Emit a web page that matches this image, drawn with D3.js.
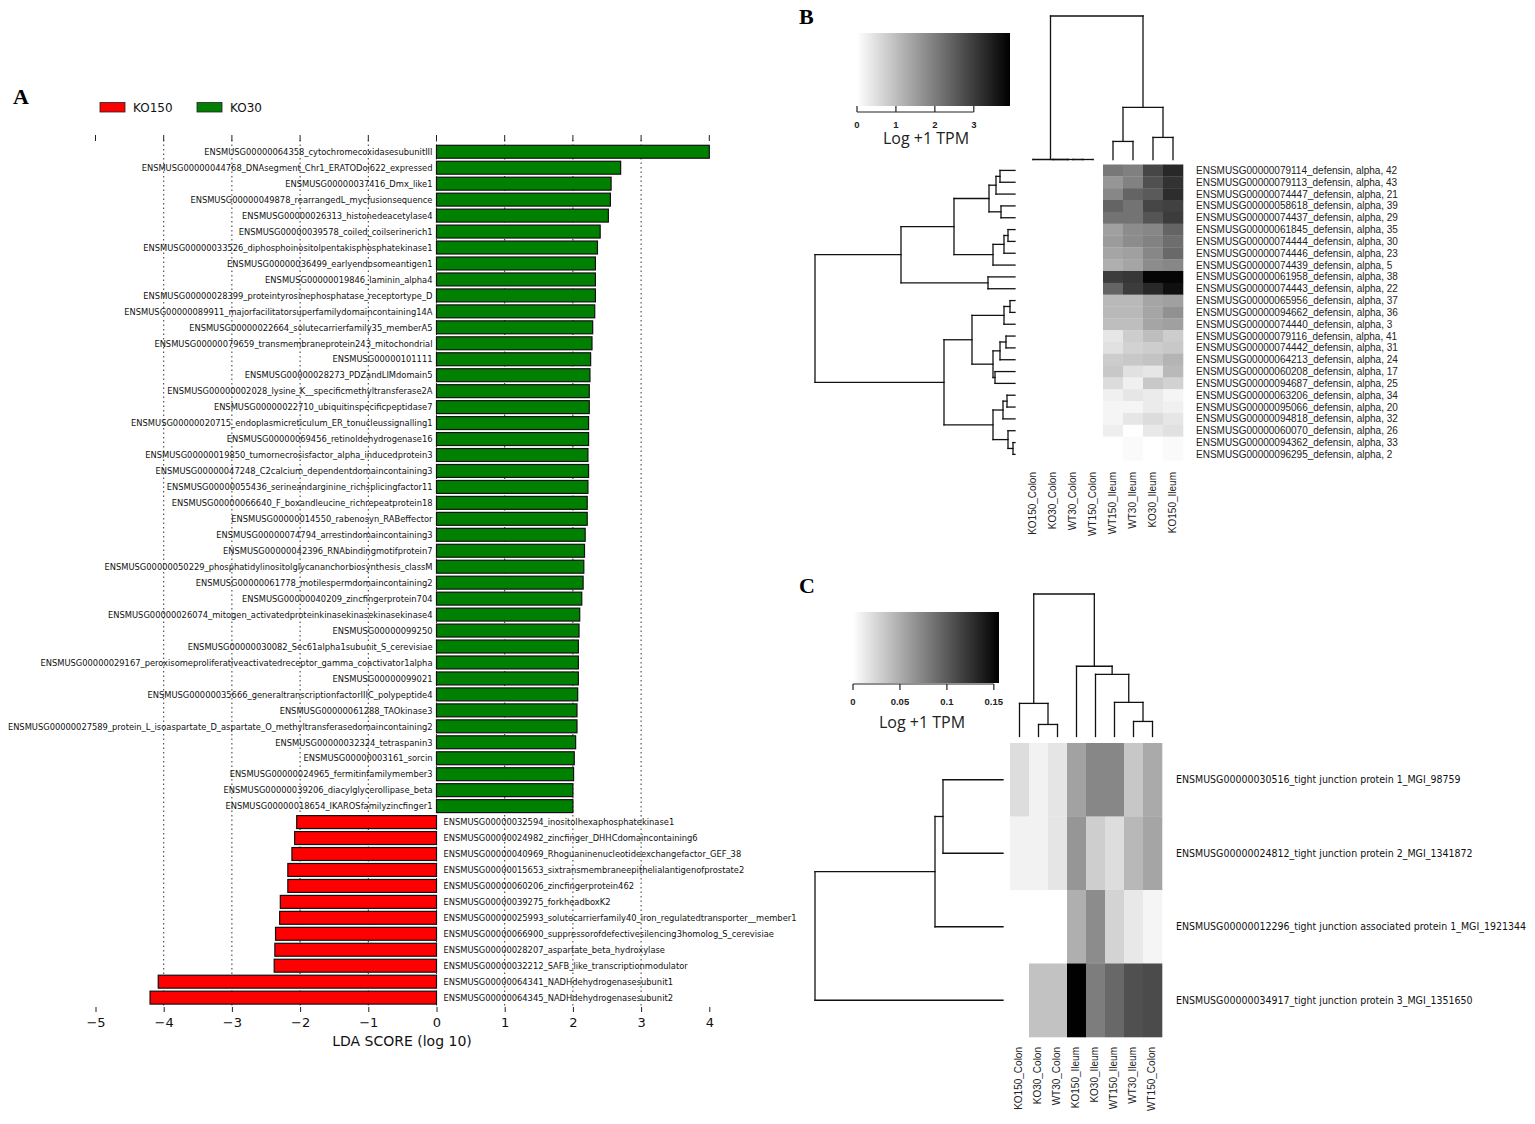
<!DOCTYPE html>
<html><head><meta charset="utf-8">
<script src="https://cdn.jsdelivr.net/npm/d3@7"></script>
<style>body{margin:0;background:#fff}</style>
</head><body>
<svg id="c" width="1535" height="1124" xmlns="http://www.w3.org/2000/svg"></svg>
<script>
// ---------------- Panel A data ----------------
const ldaGroups = ["KO150", "KO30"];
const ldaTicks = [-5, -4, -3, -2, -1, 0, 1, 2, 3, 4];
const ldaGrid = [-4, -3, -2, -1, 0, 1, 2, 3];
const ldaGenes = [
"ENSMUSG00000064358_cytochromecoxidasesubunitIII",
"ENSMUSG00000044768_DNAsegment_Chr1_ERATODoi622_expressed",
"ENSMUSG00000037416_Dmx_like1",
"ENSMUSG00000049878_rearrangedL_mycfusionsequence",
"ENSMUSG00000026313_histonedeacetylase4",
"ENSMUSG00000039578_coiled_coilserinerich1",
"ENSMUSG00000033526_diphosphoinositolpentakisphosphatekinase1",
"ENSMUSG00000036499_earlyendosomeantigen1",
"ENSMUSG00000019846_laminin_alpha4",
"ENSMUSG00000028399_proteintyrosinephosphatase_receptortype_D",
"ENSMUSG00000089911_majorfacilitatorsuperfamilydomaincontaining14A",
"ENSMUSG00000022664_solutecarrierfamily35_memberA5",
"ENSMUSG00000079659_transmembraneprotein243_mitochondrial",
"ENSMUSG00000101111",
"ENSMUSG00000028273_PDZandLIMdomain5",
"ENSMUSG00000002028_lysine_K__specificmethyltransferase2A",
"ENSMUSG00000022710_ubiquitinspecificpeptidase7",
"ENSMUSG00000020715_endoplasmicreticulum_ER_tonucleussignalling1",
"ENSMUSG00000069456_retinoldehydrogenase16",
"ENSMUSG00000019850_tumornecrosisfactor_alpha_inducedprotein3",
"ENSMUSG00000047248_C2calcium_dependentdomaincontaining3",
"ENSMUSG00000055436_serineandarginine_richsplicingfactor11",
"ENSMUSG00000066640_F_boxandleucine_richrepeatprotein18",
"ENSMUSG00000014550_rabenosyn_RABeffector",
"ENSMUSG00000074794_arrestindomaincontaining3",
"ENSMUSG00000042396_RNAbindingmotifprotein7",
"ENSMUSG00000050229_phosphatidylinositolglycananchorbiosynthesis_classM",
"ENSMUSG00000061778_motilespermdomaincontaining2",
"ENSMUSG00000040209_zincfingerprotein704",
"ENSMUSG00000026074_mitogen_activatedproteinkinasekinasekinasekinase4",
"ENSMUSG00000099250",
"ENSMUSG00000030082_Sec61alpha1subunit_S_cerevisiae",
"ENSMUSG00000029167_peroxisomeproliferativeactivatedreceptor_gamma_coactivator1alpha",
"ENSMUSG00000099021",
"ENSMUSG00000035666_generaltranscriptionfactorIIIC_polypeptide4",
"ENSMUSG00000061288_TAOkinase3",
"ENSMUSG00000027589_protein_L_isoaspartate_D_aspartate_O_methyltransferasedomaincontaining2",
"ENSMUSG00000032324_tetraspanin3",
"ENSMUSG00000003161_sorcin",
"ENSMUSG00000024965_fermitinfamilymember3",
"ENSMUSG00000039206_diacylglycerollipase_beta",
"ENSMUSG00000018654_IKAROSfamilyzincfinger1",
"ENSMUSG00000032594_inositolhexaphosphatekinase1",
"ENSMUSG00000024982_zincfinger_DHHCdomaincontaining6",
"ENSMUSG00000040969_Rhoguaninenucleotideexchangefactor_GEF_38",
"ENSMUSG00000015653_sixtransmembraneepithelialantigenofprostate2",
"ENSMUSG00000060206_zincfingerprotein462",
"ENSMUSG00000039275_forkheadboxK2",
"ENSMUSG00000025993_solutecarrierfamily40_iron_regulatedtransporter__member1",
"ENSMUSG00000066900_suppressorofdefectivesilencing3homolog_S_cerevisiae",
"ENSMUSG00000028207_aspartate_beta_hydroxylase",
"ENSMUSG00000032212_SAFB_like_transcriptionmodulator",
"ENSMUSG00000064341_NADHdehydrogenasesubunit1",
"ENSMUSG00000064345_NADHdehydrogenasesubunit2"
];
const ldaScores = [4.00,2.70,2.56,2.55,2.52,2.40,2.36,2.33,2.33,2.33,2.32,2.29,2.28,2.26,2.25,2.24,2.24,2.23,2.23,2.22,
2.23,2.22,2.21,2.21,2.18,2.17,2.16,2.15,2.13,2.10,2.09,2.08,2.08,2.08,2.07,2.06,2.06,2.04,2.02,2.01,2.00,2.00,
-2.05,-2.08,-2.12,-2.18,-2.18,-2.29,-2.30,-2.36,-2.37,-2.38,-4.08,-4.20];

// ---------------- Panel B data ----------------
const defensinGenes = [
"ENSMUSG00000079114_defensin, alpha, 42","ENSMUSG00000079113_defensin, alpha, 43","ENSMUSG00000074447_defensin, alpha, 21",
"ENSMUSG00000058618_defensin, alpha, 39","ENSMUSG00000074437_defensin, alpha, 29","ENSMUSG00000061845_defensin, alpha, 35",
"ENSMUSG00000074444_defensin, alpha, 30","ENSMUSG00000074446_defensin, alpha, 23","ENSMUSG00000074439_defensin, alpha, 5",
"ENSMUSG00000061958_defensin, alpha, 38","ENSMUSG00000074443_defensin, alpha, 22","ENSMUSG00000065956_defensin, alpha, 37",
"ENSMUSG00000094662_defensin, alpha, 36","ENSMUSG00000074440_defensin, alpha, 3","ENSMUSG00000079116_defensin, alpha, 41",
"ENSMUSG00000074442_defensin, alpha, 31","ENSMUSG00000064213_defensin, alpha, 24","ENSMUSG00000060208_defensin, alpha, 17",
"ENSMUSG00000094687_defensin, alpha, 25","ENSMUSG00000063206_defensin, alpha, 34","ENSMUSG00000095066_defensin, alpha, 20",
"ENSMUSG00000094818_defensin, alpha, 32","ENSMUSG00000060070_defensin, alpha, 26","ENSMUSG00000094362_defensin, alpha, 33",
"ENSMUSG00000096295_defensin, alpha, 2"];
const samplesB = ["KO150_Colon","KO30_Colon","WT30_Colon","WT150_Colon","WT150_Ileum","WT30_Ileum","KO30_Ileum","KO150_Ileum"];
// log(TPM+1) per gene, columns in samplesB order
const exprB = [
[0,0,0,0,2.08,1.96,2.85,3.31],
[0,0,0,0,1.62,1.93,2.70,3.16],
[0,0,0,0,1.85,2.39,2.54,3.24],
[0,0,0,0,2.39,2.16,2.85,2.93],
[0,0,0,0,2.16,2.16,2.62,3.00],
[0,0,0,0,1.46,1.77,1.85,2.39],
[0,0,0,0,1.54,1.77,1.93,2.23],
[0,0,0,0,1.39,1.46,1.85,2.31],
[0,0,0,0,1.23,1.39,1.77,1.85],
[0,0,0,0,3.00,3.08,3.85,3.85],
[0,0,0,0,2.39,3.00,3.31,3.70],
[0,0,0,0,1.08,1.08,1.39,1.46],
[0,0,0,0,1.08,1.08,1.39,1.70],
[0,0,0,0,1.00,1.00,1.39,1.46],
[0,0,0,0,0.39,0.77,1.00,0.77],
[0,0,0,0,0.46,0.69,0.77,0.85],
[0,0,0,0,0.77,0.85,0.92,1.16],
[0,0,0,0,0.85,0.46,0.39,1.08],
[0,0,0,0,0.54,0.23,0.85,0.69],
[0,0,0,0,0.23,0.39,0.31,0.15],
[0,0,0,0,0.15,0.15,0.31,0.23],
[0,0,0,0,0.15,0.39,0.54,0.39],
[0,0,0,0,0.26,0.00,0.35,0.46],
[0,0,0,0,0.00,0.08,0.00,0.08],
[0,0,0,0,0.00,0.08,0.00,0.08]];
// dendrograms: [height, left, right]; a number is a leaf index
const rowTreeB = [20,
  [11.4,
    [6.1,
      [2.6, [1.9, [1.5, 0, 1], 2], [1.4, 3, 4]],
      [2.2, [1.1, [0.7, 5, 6], 7], 8]],
    [2.7, 9, 10]],
  [7.1,
    [4.3,
      [1.1, [0.5, 11, 12], 13],
      [2.2, [1.5, [0.9, 14, 15], 16], [2.0, 17, 18]]],
    [2.2,
      [1.2, [0.8, 19, 20], 21],
      [0.7, 22, [0.2, 23, 24]]]]];
const colTreeB = [143, [0, 0, [0, 1, [0, 2, 3]]], [52, [18, 4, 5], [22, 6, 7]]];
const legendMaxB = 3.93;
const legendTicksB = [0, 1, 2, 3];

// ---------------- Panel C data ----------------
const tjGenes = [
"ENSMUSG00000030516_tight junction protein 1_MGI_98759",
"ENSMUSG00000024812_tight junction protein 2_MGI_1341872",
"ENSMUSG00000012296_tight junction associated protein 1_MGI_1921344",
"ENSMUSG00000034917_tight junction protein 3_MGI_1351650"];
const samplesC = ["KO150_Colon","KO30_Colon","WT30_Colon","KO150_Ileum","KO30_Ileum","WT150_Ileum","WT30_Ileum","WT150_Colon"];
const exprC = [
[0.021,0.008,0.016,0.057,0.073,0.073,0.034,0.052],
[0.008,0.008,0.016,0.064,0.030,0.021,0.043,0.055],
[0.000,0.000,0.000,0.049,0.070,0.027,0.014,0.006],
[0.000,0.037,0.037,0.155,0.079,0.092,0.107,0.110]];
const rowTreeC = [188, [68, [60, 0, 1], 2], 3];
const colTreeC = [142, [33, 0, [12, 1, 2]], [70, 3, [62, 4, [34, 5, [15, 6, 7]]]]];
const legendMaxC = 0.1555;
const legendTicksC = [0, 0.05, 0.1, 0.15];

// ---------------- drawing ----------------
const svg = d3.select("#c");
const narrow = "'DejaVu Sans Condensed','Liberation Sans Narrow','DejaVu Sans',sans-serif";
const arial = "'Liberation Sans',Arial,sans-serif";
const dv = "'DejaVu Sans',sans-serif";
const serif = "'Liberation Serif','Times New Roman',serif";

function panelLetter(t, x, y) {
  svg.append("text").attr("x", x).attr("y", y).text(t)
    .attr("font-family", serif).attr("font-weight", "bold").attr("font-size", 22);
}

// ===== Panel A =====
panelLetter("A", 13, 104);
const gA = svg.append("g");
const xA = d3.scaleLinear().domain([-5, 4]).range([95.5, 709.3]);
const yA = d3.scaleBand().domain(d3.range(ldaGenes.length)).range([143.7, 1005.7]).paddingInner(0.19).paddingOuter(0.1);
const colA = d3.scaleOrdinal().domain(ldaGroups).range(["#ff0000", "#008000"]);

// legend
const leg = gA.append("g");
ldaGroups.forEach((k, i) => {
  const lx = 100 + i * 97;
  leg.append("rect").attr("x", lx).attr("y", 102.5).attr("width", 25).attr("height", 9.5)
    .attr("fill", colA(k)).attr("stroke", "#222").attr("stroke-width", 0.8);
  leg.append("text").attr("x", lx + 33).attr("y", 112).text(k)
    .attr("font-family", dv).attr("font-size", 12).attr("fill", "#111");
});

// grid
gA.selectAll("line.grid").data(ldaGrid).join("line")
  .attr("x1", d => xA(d)).attr("x2", d => xA(d)).attr("y1", 140).attr("y2", 1007)
  .attr("stroke", "#333").attr("stroke-width", 1).attr("stroke-dasharray", "1.5,3");
// top ticks
gA.selectAll("line.tt").data(ldaTicks).join("line")
  .attr("x1", d => xA(d)).attr("x2", d => xA(d)).attr("y1", 135).attr("y2", 141)
  .attr("stroke", "#222").attr("stroke-width", 1);
// bottom axis
const axA = d3.axisBottom(xA).tickValues(ldaTicks).tickSize(5).tickFormat(d => d < 0 ? "\u2212" + Math.abs(d) : d);
const axG = gA.append("g").attr("transform", "translate(0,1007)").call(axA);
axG.select(".domain").remove();
axG.selectAll("text").attr("font-family", dv).attr("font-size", 13).attr("fill", "#111").attr("dy", "0.95em");
axG.selectAll("line").attr("stroke", "#222");
gA.append("text").attr("x", 402).attr("y", 1046).attr("text-anchor", "middle")
  .text("LDA SCORE (log 10)").attr("font-family", dv).attr("font-size", 14).attr("fill", "#111");

// bars
gA.selectAll("rect.bar").data(ldaScores).join("rect")
  .attr("x", d => xA(Math.min(0, d))).attr("width", d => Math.abs(xA(d) - xA(0)))
  .attr("y", (d, i) => yA(i)).attr("height", yA.bandwidth())
  .attr("fill", d => colA(d < 0 ? ldaGroups[0] : ldaGroups[1]))
  .attr("stroke", "#111").attr("stroke-width", 1.2);
// labels
gA.selectAll("text.glab").data(ldaGenes).join("text")
  .attr("x", (d, i) => ldaScores[i] >= 0 ? xA(0) - 4 : xA(0) + 7)
  .attr("y", (d, i) => yA(i) + yA.bandwidth() / 2).attr("dy", "0.35em")
  .attr("text-anchor", (d, i) => ldaScores[i] >= 0 ? "end" : "start")
  .text(d => d).attr("font-family", narrow).attr("font-size", 9.25).attr("fill", "#111");

// ===== helpers for heatmaps =====
function drawDendro(g, tree, posOf, hScale, orient) {
  const lines = [];
  function walk(node) {
    if (typeof node === "number") return { p: posOf(node), h: 0 };
    const [h, a, b] = node;
    const A = walk(a), B = walk(b);
    lines.push([A.h, A.p, h, A.p]);
    lines.push([B.h, B.p, h, B.p]);
    lines.push([h, A.p, h, B.p]);
    return { p: (A.p + B.p) / 2, h: h };
  }
  walk(tree);
  g.selectAll("line.dd").data(lines).join("line")
    .attr("x1", d => orient === "row" ? hScale(d[0]) : d[1])
    .attr("y1", d => orient === "row" ? d[1] : hScale(d[0]))
    .attr("x2", d => orient === "row" ? hScale(d[2]) : d[3])
    .attr("y2", d => orient === "row" ? d[3] : hScale(d[2]))
    .attr("stroke", "#111").attr("stroke-width", 1.3).attr("stroke-linecap", "square");
}

function colorBar(g, id, x0, x1, y0, y1, maxV, ticks, fmt, axisY, tickUp, labY, titleX, titleY) {
  const grad = svg.append("defs").append("linearGradient").attr("id", id)
    .attr("x1", "0%").attr("x2", "100%").attr("y1", "0%").attr("y2", "0%");
  grad.append("stop").attr("offset", "0%").attr("stop-color", "#ffffff");
  grad.append("stop").attr("offset", "100%").attr("stop-color", "#000000");
  g.append("rect").attr("x", x0).attr("y", y0).attr("width", x1 - x0).attr("height", y1 - y0)
    .attr("fill", `url(#${id})`);
  const s = d3.scaleLinear().domain([0, maxV]).range([x0, x1]);
  g.append("line").attr("x1", s(ticks[0])).attr("x2", s(ticks[ticks.length - 1]))
    .attr("y1", axisY).attr("y2", axisY).attr("stroke", "#222").attr("stroke-width", 1.2);
  g.selectAll("line.bt").data(ticks).join("line")
    .attr("x1", d => s(d)).attr("x2", d => s(d)).attr("y1", axisY).attr("y2", axisY + tickUp)
    .attr("stroke", "#222").attr("stroke-width", 1.2);
  g.selectAll("text.bl").data(ticks).join("text")
    .attr("x", d => s(d)).attr("y", labY).attr("text-anchor", "middle").text(fmt)
    .attr("font-family", arial).attr("font-weight", "bold").attr("font-size", 9.5).attr("fill", "#222");
  g.append("text").attr("x", titleX).attr("y", titleY).attr("text-anchor", "middle").text("Log +1 TPM")
    .attr("font-family", "'Open Sans','Liberation Sans',sans-serif").attr("font-size", 16).attr("fill", "#222");
}

// ===== Panel B =====
panelLetter("B", 799, 24);
const gB = svg.append("g");
const xB = d3.scaleBand().domain(d3.range(samplesB.length)).range([1023, 1183]);
const yB = d3.scaleBand().domain(d3.range(defensinGenes.length)).range([164.5, 460.3]);
const cB = d3.scaleLinear().domain([0, legendMaxB]).range(["#ffffff", "#000000"]);
exprB.forEach((row, r) => {
  gB.selectAll(null).data(row).join("rect")
    .attr("x", (d, c) => xB(c)).attr("y", yB(r))
    .attr("width", xB.bandwidth() + 0.3).attr("height", yB.bandwidth() + 0.3)
    .attr("fill", d => cB(d));
});
gB.selectAll("text.rl").data(defensinGenes).join("text")
  .attr("x", 1196).attr("y", (d, i) => yB(i) + yB.bandwidth() / 2).attr("dy", "0.35em")
  .text(d => d).attr("font-family", arial).attr("font-size", 10).attr("fill", "#222");
gB.selectAll("text.cl").data(samplesB).join("text")
  .attr("transform", (d, i) => `translate(${xB(i) + xB.bandwidth() / 2 - 1},472) rotate(-90)`)
  .attr("dy", "0.35em").attr("text-anchor", "end")
  .text(d => d).attr("font-family", arial).attr("font-size", 10).attr("fill", "#222");
drawDendro(gB.append("g"), rowTreeB, i => yB(i) + yB.bandwidth() / 2,
  d3.scaleLinear().domain([0, 20]).range([1015, 815]), "row");
drawDendro(gB.append("g"), colTreeB, i => xB(i) + xB.bandwidth() / 2,
  d3.scaleLinear().domain([0, 143]).range([159.5, 16]), "col");
colorBar(gB, "gradB", 857, 1010, 33, 106, legendMaxB, legendTicksB, d => d, 112, -6, 127.5, 926, 144);

// ===== Panel C =====
panelLetter("C", 799, 593);
const gC = svg.append("g");
const xC = d3.scaleBand().domain(d3.range(samplesC.length)).range([1010, 1162]);
const yC = d3.scaleBand().domain(d3.range(tjGenes.length)).range([743, 1037]);
const cC = d3.scaleLinear().domain([0, legendMaxC]).range(["#ffffff", "#000000"]);
exprC.forEach((row, r) => {
  gC.selectAll(null).data(row).join("rect")
    .attr("x", (d, c) => xC(c)).attr("y", yC(r))
    .attr("width", xC.bandwidth() + 0.3).attr("height", yC.bandwidth() + 0.3)
    .attr("fill", d => cC(d));
});
gC.selectAll("text.rl").data(tjGenes).join("text")
  .attr("x", 1176).attr("y", (d, i) => yC(i) + yC.bandwidth() / 2).attr("dy", "0.35em")
  .text(d => d).attr("font-family", narrow).attr("font-size", 10.5).attr("fill", "#111");
gC.selectAll("text.cl").data(samplesC).join("text")
  .attr("transform", (d, i) => `translate(${xC(i) + xC.bandwidth() / 2 - 1},1047) rotate(-90)`)
  .attr("dy", "0.35em").attr("text-anchor", "end")
  .text(d => d).attr("font-family", arial).attr("font-size", 10).attr("fill", "#222");
drawDendro(gC.append("g"), rowTreeC, i => yC(i) + yC.bandwidth() / 2,
  d3.scaleLinear().domain([0, 188]).range([1003, 815]), "row");
drawDendro(gC.append("g"), colTreeC, i => xC(i) + xC.bandwidth() / 2,
  d3.scaleLinear().domain([0, 142]).range([736.5, 594]), "col");
colorBar(gC, "gradC", 853, 999, 612, 683, legendMaxC, legendTicksC, d => d, 684, 6, 705, 922, 728);
</script>
</body></html>
